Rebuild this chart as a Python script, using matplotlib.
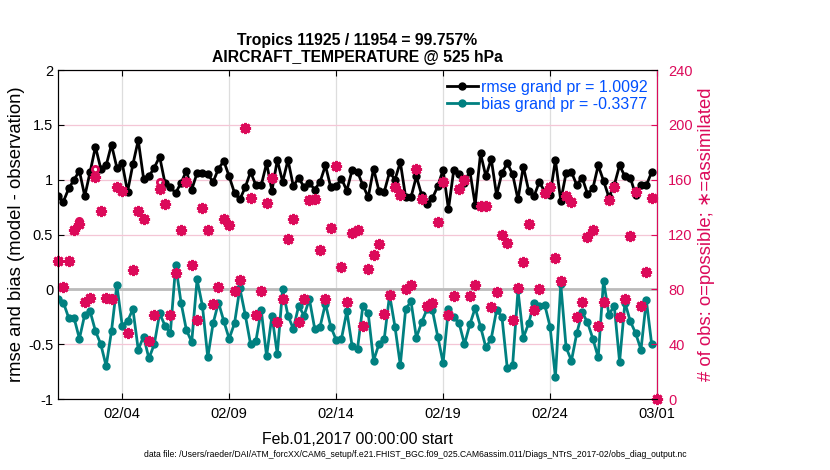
import numpy as np
import pandas as pd
import matplotlib
matplotlib.use('Agg')
import matplotlib.pyplot as plt
import matplotlib.dates as mdates

plt.rcParams['font.family'] = ['Liberation Sans', 'DejaVu Sans']

# 6-hourly bins, Feb 01 00Z .. Mar 01 00Z
times = pd.date_range('2017-02-01', periods=113, freq='6h')

rmse = [0.85, 0.80, 0.92, 1.00, 1.08, 0.85, 1.07, 1.30, 1.10, 1.13,
        1.32, 1.11, 1.15, 0.89, 1.14, 1.36, 1.01, 1.03, 1.11, 1.21,
        0.97, 0.93, 0.88, 0.97, 1.08, 0.91, 1.06, 1.06, 1.05, 0.98,
        1.10, 1.17, 1.03, 0.88, 0.82, 0.93, 1.07, 0.95, 0.95, 1.15,
        0.90, 1.18, 0.98, 1.18, 0.94, 1.02, 0.93, 0.97, 0.91, 0.98,
        1.13, 0.93, 0.94, 1.01, 0.90, 1.09, 1.07, 0.95, 0.84, 1.10,
        0.90, 0.89, 1.07, 1.00, 1.16, 0.84, 0.84, 1.03, 0.86, 0.78,
        0.83, 0.94, 1.09, 0.73, 1.09, 1.05, 0.97, 1.08, 0.77, 1.24,
        1.03, 1.19, 0.86, 1.06, 1.15, 1.05, 0.82, 1.12, 0.90, 0.85,
        0.98, 0.89, 0.86, 1.18, 0.81, 1.06, 1.07, 0.95, 1.02, 0.87,
        0.92, 1.13, 0.99, 0.84, 0.95, 1.13, 1.03, 1.02, 0.86, 0.95,
        0.95, 1.07, np.nan]

bias = [-0.09, -0.12, -0.26, -0.26, -0.45, -0.23, -0.20, -0.38, -0.50, -0.70,
        -0.38, 0.04, -0.33, -0.29, -0.18, -0.55, -0.43, -0.63, -0.50, -0.22,
        -0.33, -0.40, 0.22, -0.12, -0.37, -0.48, 0.09, -0.15, -0.62, -0.31,
        -0.12, -0.29, -0.45, -0.31, 0.01, -0.23, -0.50, -0.47, -0.19, -0.61,
        -0.24, -0.59, 0.00, -0.24, -0.36, -0.15, -0.24, -0.09, -0.36, -0.34,
        -0.13, -0.34, -0.46, -0.45, -0.20, -0.52, -0.54, -0.15, -0.22, -0.65,
        -0.50, -0.45, -0.05, -0.34, -0.69, -0.18, -0.11, -0.44, -0.30, -0.18,
        -0.19, -0.43, -0.67, -0.18, -0.25, -0.31, -0.50, -0.32, -0.17, -0.34,
        -0.53, -0.45, -0.19, -0.25, -0.72, -0.69, -0.01, -0.44, -0.31, -0.12,
        -0.15, -0.14, -0.34, -0.80, 0.05, -0.53, -0.65, -0.40, -0.21, -0.30,
        -0.45, -0.62, 0.08, -0.23, -0.15, -0.66, -0.12, -0.29, -0.40, -0.55,
        -0.10, -0.50, np.nan]

nobs_used = [101, 82, 101, 123, 128, 71, 74, 162, 137, 74,
             73, 155, 152, 48, 94, 137, 131, 42, 61, 153,
             142, 61, 92, 123, 158, 98, 58, 139, 123, 69,
             82, 131, 127, 79, 87, 198, 147, 61, 79, 143,
             161, 56, 73, 117, 131, 56, 73, 145, 146, 109,
             73, 125, 170, 96, 71, 121, 123, 53, 95, 105,
             113, 62, 76, 155, 149, 80, 83, 168, 146, 68,
             70, 129, 158, 61, 75, 153, 160, 75, 83, 141,
             141, 67, 78, 120, 114, 58, 81, 100, 128, 65,
             80, 150, 155, 103, 86, 148, 144, 60, 71, 118,
             123, 53, 71, 145, 155, 60, 73, 119, 151, 68,
             93, 147, 0]

nobs_poss = [101, 82, 101, 123, 130, 71, 74, 168, 137, 74,
             73, 155, 152, 48, 94, 137, 131, 42, 61, 158,
             142, 61, 92, 123, 158, 98, 58, 139, 123, 69,
             82, 131, 127, 79, 87, 198, 147, 61, 79, 143,
             161, 56, 73, 117, 131, 56, 73, 145, 146, 109,
             73, 125, 170, 96, 71, 121, 123, 53, 95, 105,
             113, 62, 76, 155, 150, 80, 83, 168, 146, 68,
             70, 129, 158, 61, 75, 153, 160, 75, 83, 141,
             141, 67, 78, 120, 114, 58, 81, 100, 128, 65,
             80, 150, 155, 103, 86, 148, 144, 60, 71, 118,
             123, 53, 71, 145, 155, 60, 73, 119, 151, 68,
             93, 147, 0]

rmse_label = 'rmse grand pr = 1.0092'
bias_label = 'bias grand pr = -0.3377'
title_lines = 'Tropics 11925 / 11954 = 99.757%\nAIRCRAFT_TEMPERATURE @ 525 hPa'
datafile = ('data file: /Users/raeder/DAI/ATM_forcXX/CAM6_setup/'
            'f.e21.FHIST_BGC.f09_025.CAM6assim.011/Diags_NTrS_2017-02/obs_diag_output.nc')
xticks = pd.to_datetime(['2017-02-04', '2017-02-09', '2017-02-14',
                         '2017-02-19', '2017-02-24', '2017-03-01'])

crimson = '#DC0A5A'
teal = '#008080'
blue = '#0050FF'

fig = plt.figure(figsize=(8.3, 4.7), dpi=100)
ax = fig.add_axes([0.0699, 0.151, 0.7217, 0.700])
ax2 = ax.twinx()

# left axis: rmse and bias
ax.axhline(0, color='#BBBBBB', lw=2, zorder=1)
l1, = ax.plot(times, rmse, '-o', color='black', lw=2, ms=5, zorder=3, label=rmse_label)
l2, = ax.plot(times, bias, '-o', color=teal, lw=2, ms=5, zorder=3, label=bias_label)
ax.set_ylim(-1, 2)
ax.set_yticks([-1, -0.5, 0, 0.5, 1, 1.5, 2])
ax.set_yticklabels(['-1', '-0.5', '0', '0.5', '1', '1.5', '2'])
ax.set_xlim(pd.Timestamp('2017-02-01'), pd.Timestamp('2017-03-01'))
ax.set_xticks(xticks)
ax.xaxis.set_major_formatter(mdates.DateFormatter('%m/%d'))
ax.grid(axis='x', color='#DDDDDD', lw=0.9)
ax.grid(axis='y', color='#F4C6D6', lw=0.9)
ax.set_axisbelow(True)
ax.tick_params(direction='in', labelsize=10.5, length=4, top=True)
ax.tick_params(axis='x', pad=6)
ax.set_ylabel('rmse and bias (model - observation)', fontsize=13.3, labelpad=2)
ax.set_xlabel('Feb.01,2017 00:00:00 start', fontsize=11.4, labelpad=8)
ax.set_title(title_lines, fontsize=11.3, fontweight='bold', pad=6, linespacing=1.15)

# right axis: number of observations (o = possible, * = assimilated)
ax2.plot(times, nobs_poss, 'o', mfc='none', mec=crimson, ms=4.5, mew=2, clip_on=False)
ax2.plot(times, nobs_used, marker=(8, 2, 0), ls='none', color=crimson,
         ms=8, mew=2, clip_on=False)
ax2.set_ylim(0, 240)
ax2.set_yticks(range(0, 241, 40))
ax2.tick_params(axis='y', direction='in', colors=crimson, labelsize=10.5,
                length=4, pad=8)
ax2.spines['right'].set_color(crimson)
ax2.set_ylabel('# of obs: o=possible; \u2217=assimilated', color=crimson,
               fontsize=13.3, labelpad=4)

leg = ax2.legend(handles=[l1, l2], loc='upper right', frameon=False,
                 fontsize=11.5, handlelength=1.9, handletextpad=0.2,
                 borderaxespad=0.2, labelspacing=0.15)
for t in leg.get_texts():
    t.set_color(blue)

fig.text(0.5, 0.027, datafile, ha='center', fontsize=6.2)

fig.savefig('out.png', dpi=100)
